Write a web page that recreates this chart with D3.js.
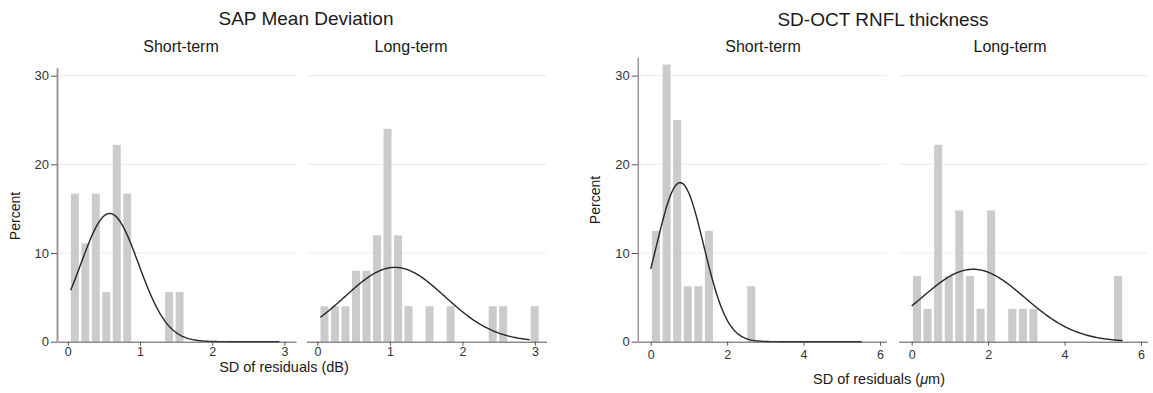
<!DOCTYPE html>
<html>
<head>
<meta charset="utf-8">
<script src="https://cdn.jsdelivr.net/npm/d3@7"></script>
<style>
  body { margin: 0; background: #fff; }
  svg { font-family: "Liberation Sans", Arial, sans-serif; }
</style>
</head>
<body>
<svg id="chart" width="1153" height="393"></svg>
<script>
// ---- data (percent per histogram bin) ----
var sapBinStart = 0.025, sapBinWidth = 0.145;
var sapShort = [16.7, 11.1, 16.7, 5.6, 22.2, 16.7, 0, 0, 0, 5.6, 5.6];
var sapLong = [4, 4, 4, 8, 8, 12, 24, 12, 4, 0, 4, 0, 4, 0, 0, 0, 4, 4, 0, 0, 4];

var octBinStart = 0, octBinWidth = 0.277;
var octShort = [12.5, 31.25, 25, 6.25, 6.25, 12.5, 0, 0, 0, 6.25];
var octLong = [7.4, 3.7, 22.2, 7.4, 14.8, 7.4, 3.7, 14.8, 0, 3.7, 3.7, 3.7, 0, 0, 0, 0, 0, 0, 0, 7.4];

// normal overlay: [mean, sd]
var sapShortNorm = [0.58, 0.40];
var sapLongNorm = [1.07, 0.69];
var octShortNorm = [0.77, 0.616];
var octLongNorm = [1.61, 1.353];
var sapCurveRange = [0.04, 2.93];
var octCurveRange = [0.0, 5.52];

var sapXTicks = [0, 1, 2, 3];
var octXTicks = [0, 2, 4, 6];
var yTicks = [0, 10, 20, 30];

var svg = d3.select("#chart");

/* ---- graph layouts ---- */
var graphs = [
  {
    title: "SAP Mean Deviation", titleX: 306, titleY: 25,
    xlabel: "SD of residuals (dB)", xlabelX: 284, xlabelY: 372,
    ylabelX: 15, ylabelY: 216,
    yTop: 67.7, yMax: 30.9, yAxisColor: "#999", yAxisWidth: 2, tickPad: 1,
    domain: [-0.15, 3.16], ticks: sapXTicks,
    binStart: sapBinStart, binWidth: sapBinWidth, curveRange: sapCurveRange,
    panels: [
      { name: "Short-term", cx: 181, x0: 57, x1: 296, pct: sapShort, norm: sapShortNorm },
      { name: "Long-term", cx: 411, x0: 306.5, x1: 546.5, pct: sapLong, norm: sapLongNorm }
    ]
  },
  {
    title: "SD-OCT RNFL thickness", titleX: 883, titleY: 26,
    xlabel: "SD of residuals (", xlabelX: 879, xlabelY: 384,
    ylabelX: 595, ylabelY: 200,
    yTop: 57, yMax: 32.1, yAxisColor: "#666", yAxisWidth: 1, tickPad: 4,
    domain: [-0.34, 6.17], ticks: octXTicks,
    binStart: octBinStart, binWidth: octBinWidth, curveRange: octCurveRange,
    panels: [
      { name: "Short-term", cx: 763, x0: 637.7, x1: 886.5, pct: octShort, norm: octShortNorm },
      { name: "Long-term", cx: 1010, x0: 898.7, x1: 1147.5, pct: octLong, norm: octLongNorm }
    ]
  }
];

var y0px = 341.7;

graphs.forEach(function(g, gi) {
  var y = d3.scaleLinear().domain([0, g.yMax]).range([y0px, g.yTop]);

  svg.append("text")
    .attr("x", g.titleX).attr("y", g.titleY)
    .attr("text-anchor", "middle")
    .style("font-size", "19px").style("fill", "#1a1a1a")
    .text(g.title);

  g.panels.forEach(function(p, pi) {
    var x = d3.scaleLinear().domain(g.domain).range([p.x0, p.x1]);
    var gp = svg.append("g").attr("class", "panel");

    svg.append("text")
      .attr("x", p.cx).attr("y", 52)
      .attr("text-anchor", "middle")
      .style("font-size", "16px").style("fill", "#1a1a1a")
      .text(p.name);

    // gridlines
    gp.selectAll("line.grid")
      .data(yTicks.slice(1))
      .enter().append("line")
        .attr("class", "grid")
        .attr("x1", p.x0).attr("x2", p.x1)
        .attr("y1", function(d) { return y(d); })
        .attr("y2", function(d) { return y(d); })
        .style("stroke", "#ececec").style("stroke-width", 1);

    // bars
    var bins = p.pct.map(function(v, i) {
      return { x: g.binStart + i * g.binWidth, v: v };
    }).filter(function(d) { return d.v > 0; });
    var bw = x(g.binWidth) - x(0);
    gp.selectAll("rect.bar")
      .data(bins)
      .enter().append("rect")
        .attr("class", "bar")
        .attr("x", function(d) { return x(d.x) + bw * 0.12; })
        .attr("width", bw * 0.76)
        .attr("y", function(d) { return y(d.v); })
        .attr("height", function(d) { return y0px - y(d.v); })
        .style("fill", "#cbcbcb");

    // normal density overlay, scaled to percent per bin
    var m = p.norm[0], s = p.norm[1];
    var pts = d3.range(0, 201).map(function(i) {
      var xv = g.curveRange[0] + (g.curveRange[1] - g.curveRange[0]) * i / 200;
      var dens = Math.exp(-(xv - m) * (xv - m) / (2 * s * s)) / (s * Math.sqrt(2 * Math.PI));
      return [xv, dens * g.binWidth * 100];
    });
    gp.append("path")
      .datum(pts)
      .attr("d", d3.line().x(function(d) { return x(d[0]); }).y(function(d) { return y(d[1]); }))
      .style("fill", "none").style("stroke", "#262626").style("stroke-width", 1.4);

    // x axis
    var xa = gp.append("g")
      .attr("transform", "translate(0," + y0px + ")")
      .call(d3.axisBottom(x).tickValues(g.ticks).tickSize(4).tickSizeOuter(0).tickPadding(g.tickPad).tickFormat(d3.format("d")));
    xa.select(".domain").style("stroke", "#555");
    xa.selectAll(".tick line").style("stroke", "#555");
    xa.selectAll("text").style("font-size", "12.5px").style("fill", "#333").style("font-family", "inherit");

    // y axis on the first panel only
    if (pi === 0) {
      var ya = gp.append("g")
        .attr("transform", "translate(" + p.x0 + ",0)")
        .call(d3.axisLeft(y).tickValues(yTicks).tickSize(6).tickSizeOuter(0).tickPadding(2));
      ya.select(".domain").style("stroke", g.yAxisColor).style("stroke-width", g.yAxisWidth);
      ya.selectAll(".tick line").style("stroke", "#555");
      ya.selectAll("text").style("font-size", "13px").style("fill", "#333").style("font-family", "inherit");
    }
  });

  // axis titles
  var xl = svg.append("text")
    .attr("x", g.xlabelX).attr("y", g.xlabelY)
    .attr("text-anchor", "middle")
    .style("font-size", "14.5px").style("fill", "#1a1a1a")
    .text(g.xlabel);
  if (gi === 1) {
    xl.append("tspan").style("font-style", "italic").text("\u03bc");
    xl.append("tspan").text("m)");
  }

  svg.append("text")
    .attr("transform", "translate(" + g.ylabelX + "," + g.ylabelY + ") rotate(-90)")
    .attr("dy", "0.35em")
    .attr("text-anchor", "middle")
    .style("font-size", "14px").style("fill", "#1a1a1a")
    .text("Percent");
});
</script>
</body>
</html>
